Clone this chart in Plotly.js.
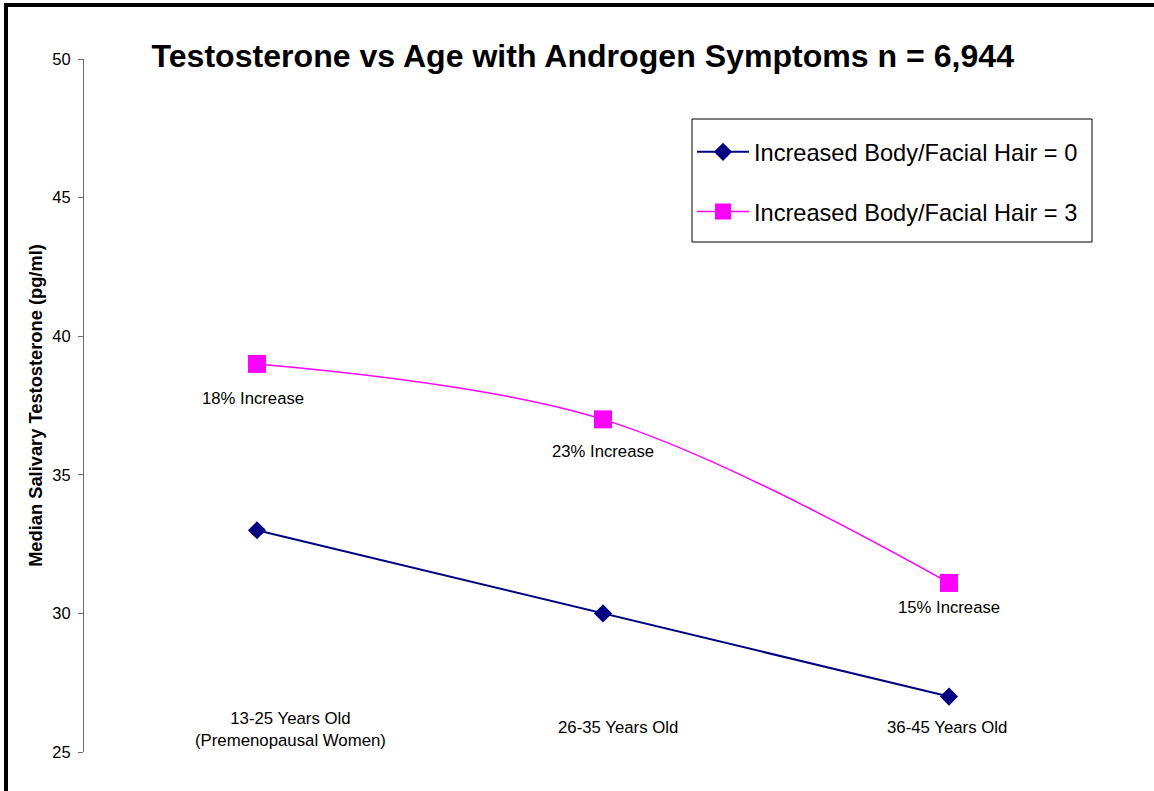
<!DOCTYPE html>
<html>
<head>
<meta charset="utf-8">
<script src="https://cdn.plot.ly/plotly-3.0.1.min.js"></script>
<style>
  html, body { margin: 0; padding: 0; background: #fff; overflow: hidden; }
  #wrap { position: relative; width: 1154px; height: 791px; }
  #chart { position: absolute; left: 0; top: 0; width: 1154px; height: 791px; }
  #frame { position: absolute; left: 4px; top: 3px; width: 1200px; height: 900px;
           border-left: 4px solid #000; border-top: 4px solid #000; pointer-events: none; }
</style>
</head>
<body>
<div id="wrap">
  <div id="chart"></div>
  <div id="frame"></div>
</div>
<script>
// ---- data ----
const categories = ["13-25", "26-35", "36-45"];
const categoryLabels = ["13-25 Years Old<br>(Premenopausal Women)", "26-35 Years Old", "36-45 Years Old"];
const hair0 = [33, 30, 27];
const hair3 = [39, 37, 31.1];
const increaseLabels = ["18% Increase", "23% Increase", "15% Increase"];
const seriesNames = ["Increased Body/Facial Hair = 0", "Increased Body/Facial Hair = 3"];
const chartTitle = "Testosterone vs Age with Androgen Symptoms n = 6,944";
const yTitle = "Median Salivary Testosterone (pg/ml)";

const FONT = "Arial, 'Liberation Sans', sans-serif";

// plot area in pixels (for converting legend box placement to paper coords)
const PL = 84, PR = 1122, PT = 59, PB = 752;
const px2paperX = p => (p - PL) / (PR - PL);
const px2paperY = p => (PB - p) / (PB - PT);

const traces = [
  {
    x: categories, y: hair0, name: seriesNames[0], type: "scatter", mode: "lines+markers",
    legendgroup: "a",
    line: { color: "#000080", width: 2 },
    marker: { symbol: "diamond", size: 14, color: "#000080" }
  },
  {
    x: categories, y: hair3, name: seriesNames[1], type: "scatter", mode: "lines+markers",
    legendgroup: "b",
    line: { color: "#FF00FF", width: 1.5, shape: "spline", smoothing: 1 },
    marker: { symbol: "square", size: 18, color: "#FF00FF" }
  }
];

const annotations = [];
const incShiftX = [-4, 0, 0];
const incShiftY = [-35, -32, -25];
increaseLabels.forEach((t, i) => {
  annotations.push({
    x: categories[i], y: hair3[i], xref: "x", yref: "y", text: t, showarrow: false,
    xanchor: "center", yanchor: "middle", xshift: incShiftX[i], yshift: incShiftY[i],
    font: { family: FONT, size: 16.7, color: "#000" }
  });
});
const catShiftX = [33, 15, -2];
const catY = [25.82, 25.87, 25.87];
categoryLabels.forEach((t, i) => {
  annotations.push({
    x: categories[i], y: catY[i], xref: "x", yref: "y", text: t, showarrow: false,
    xanchor: "center", yanchor: "middle", align: "center", xshift: catShiftX[i],
    font: { family: FONT, size: 16.8, color: "#000" }
  });
});

const layout = {
  width: 1154, height: 791,
  paper_bgcolor: "#fff", plot_bgcolor: "#fff",
  margin: { l: PL, r: 1154 - PR, t: PT, b: 791 - PB },
  showlegend: true,
  title: {
    text: "<b>" + chartTitle + "</b>",
    font: { family: FONT, size: 32.1, color: "#000" },
    x: 0.505, xref: "container", xanchor: "center",
    y: 1 - 56 / 791, yref: "container", yanchor: "middle"
  },
  xaxis: {
    type: "category", range: [-0.5, 2.5], showticklabels: false, showline: false,
    showgrid: false, zeroline: false, ticks: "", fixedrange: true
  },
  yaxis: {
    range: [25, 50], dtick: 5, tick0: 25, showgrid: false, zeroline: false,
    showline: true, linecolor: "#6e6e6e", linewidth: 1,
    ticks: "outside", ticklen: 5, tickcolor: "#6e6e6e", tickwidth: 1,
    ticklabelstandoff: 4,
    tickfont: { family: FONT, size: 16.5, color: "#000" },
    automargin: false,
    title: { text: "<b>" + yTitle + "</b>", font: { family: FONT, size: 18.3, color: "#000" }, standoff: 4 }
  },
  shapes: [{
    type: "rect", xref: "paper", yref: "paper", layer: "below",
    x0: px2paperX(692), x1: px2paperX(1092), y0: px2paperY(242), y1: px2paperY(119),
    line: { color: "#000", width: 1 }, fillcolor: "#fff"
  }],
  legend: {
    x: px2paperX(692), xanchor: "left", xref: "paper",
    y: px2paperY(130), yanchor: "top", yref: "paper",
    bgcolor: "rgba(0,0,0,0)", borderwidth: 0,
    font: { family: FONT, size: 23.6, color: "#000" },
    itemwidth: 52,
    traceorder: "grouped", tracegroupgap: 26
  },
  annotations: annotations
};

Plotly.newPlot("chart", traces, layout, { staticPlot: true, displayModeBar: false });
</script>
</body>
</html>
